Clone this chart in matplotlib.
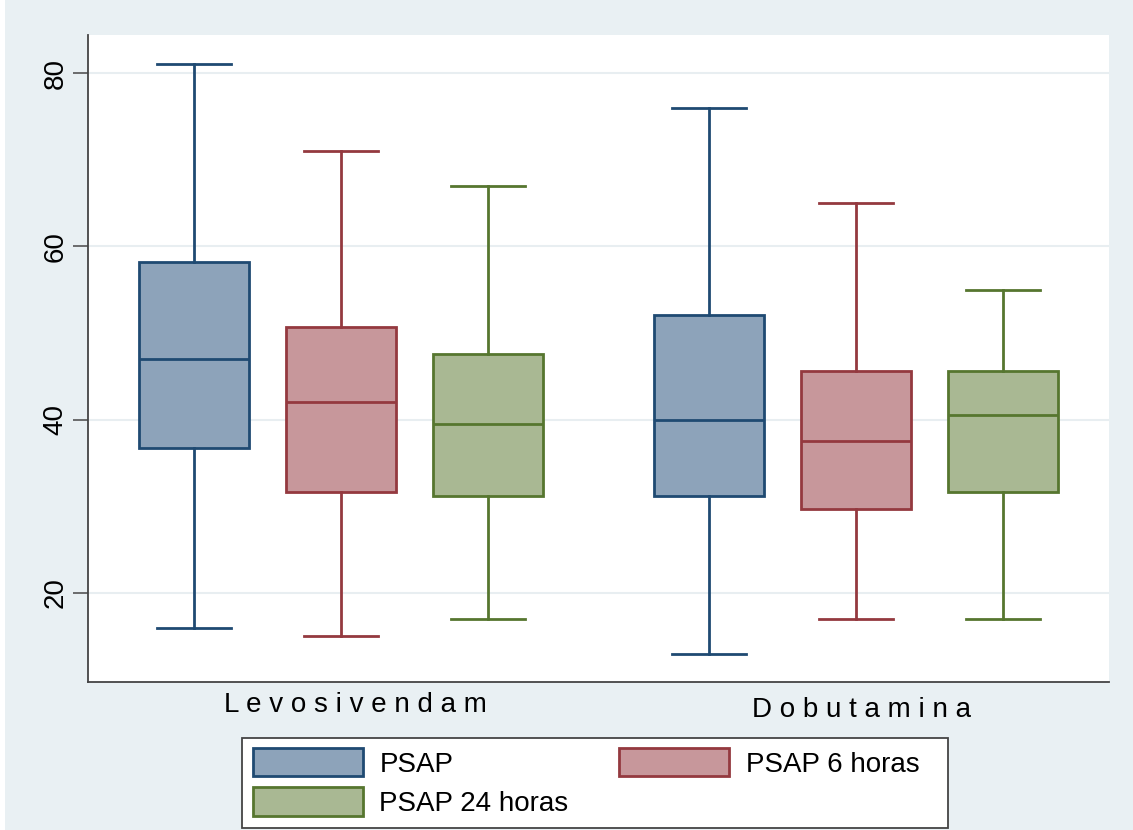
import matplotlib
matplotlib.use("Agg")
import matplotlib.pyplot as plt
from matplotlib.patches import Patch, Rectangle

plt.rcParams['font.family'] = ['Liberation Sans', 'DejaVu Sans']

# data
groups = ['Levosivendam', 'Dobutamina']
series = ['PSAP', 'PSAP 6 horas', 'PSAP 24 horas']
whislo = [[16, 15, 17], [13, 17, 17]]
q1 = [[36.7, 31.7, 31.2], [31.2, 29.7, 31.7]]
med = [[47, 42, 39.5], [40, 37.5, 40.5]]
q3 = [[58.2, 50.7, 47.6], [52.1, 45.6, 45.6]]
whishi = [[81, 71, 67], [76, 65, 55]]

fills = ['#8DA3BA', '#C7979B', '#A9B893']
edges = ['#1F4A72', '#94393F', '#56762F']
bg = '#E9F0F3'

W, H = 1133, 830
fig = plt.figure(figsize=(W/100, H/100), dpi=100, facecolor='white')
fig.patches.append(Rectangle((5/W, 0), 1, 1, transform=fig.transFigure,
                             facecolor=bg, edgecolor='none', zorder=-10))
ax = fig.add_axes([88/W, 1 - 682/H, (1109-88)/W, (682-35)/H])
ax.set_facecolor('white')

group_start = [0, 3.5]
for g in range(len(groups)):
    for s in range(len(series)):
        st = [dict(whislo=whislo[g][s], q1=q1[g][s], med=med[g][s],
                   q3=q3[g][s], whishi=whishi[g][s], fliers=[])]
        pos = group_start[g] + s
        ax.bxp(st, positions=[pos], widths=0.75, patch_artist=True,
               showfliers=False, capwidths=0.5,
               boxprops=dict(facecolor=fills[s], edgecolor=edges[s], linewidth=2),
               medianprops=dict(color=edges[s], linewidth=2),
               whiskerprops=dict(color=edges[s], linewidth=2),
               capprops=dict(color=edges[s], linewidth=2),
               manage_ticks=False)

ax.set_xlim(-0.72, 6.22)
ax.set_ylim(9.73, 84.4)
ax.set_yticks([20, 40, 60, 80])
ax.set_yticklabels(['20', '40', '60', '80'], rotation=90, va='center', fontsize=20)
ax.tick_params(axis='y', length=11, width=1.2, color='#555555', pad=3)
ax.set_xticks([])
ax.grid(axis='y', color='#E8EEF1', linewidth=1.5)
ax.set_axisbelow(True)
for side in ['top', 'right']:
    ax.spines[side].set_visible(False)
for side in ['left', 'bottom']:
    ax.spines[side].set_color('#444444')
    ax.spines[side].set_linewidth(1.3)

# group labels, letter-spaced like the original
label_px = [(355, 712), (862, 717)]
for g, name in enumerate(groups):
    x, y = label_px[g]
    fig.text(x/W, 1 - y/H, ' '.join(name), ha='center', va='baseline', fontsize=20)

# legend: frame drawn separately, entries without frame
fig.patches.append(Rectangle((242/W, 1 - 828/H), (948-242)/W, (828-738)/H,
                             transform=fig.transFigure, facecolor='white',
                             edgecolor='#444444', linewidth=1.3, zorder=1))
handles = [Patch(facecolor=fills[i], edgecolor=edges[i], linewidth=2) for i in range(3)]
order = [0, 2, 1]
leg = fig.legend([handles[i] for i in order], [series[i] for i in order], ncol=2,
                 loc='upper left', bbox_to_anchor=(253/W, 1 - 748/H),
                 fontsize=20, handlelength=3.95, handleheight=1.2,
                 frameon=False, borderpad=0, labelspacing=0.35,
                 handletextpad=0.6, columnspacing=1.83, borderaxespad=0)
leg.set_zorder(2)

fig.savefig('out.png', dpi=100, facecolor=fig.get_facecolor())
